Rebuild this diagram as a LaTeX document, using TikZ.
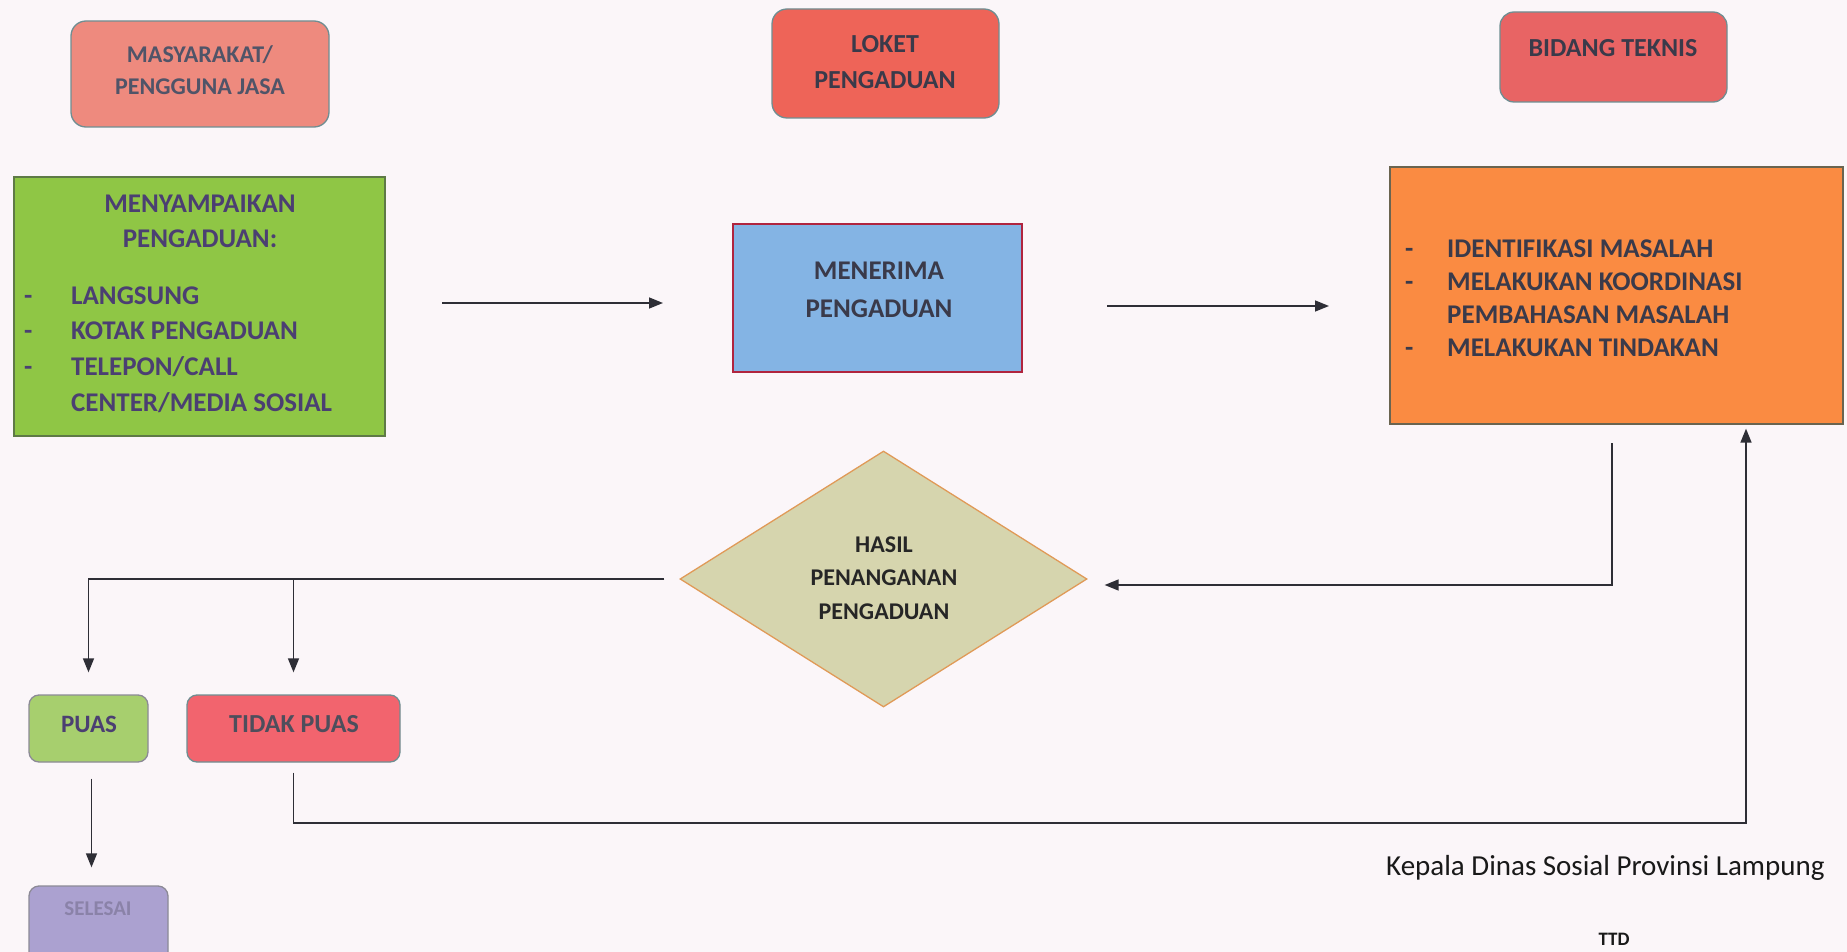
\documentclass[tikz,border=0pt]{standalone}
\usepackage{fontspec}
\setmainfont{Carlito}
\usetikzlibrary{arrows.meta,shapes.geometric,calc}
\definecolor{bg}{HTML}{FBF6F9}
\definecolor{masyf}{HTML}{EE8A7E}
\definecolor{loketf}{HTML}{EE6458}
\definecolor{bidf}{HTML}{E86464}
\definecolor{tealg}{HTML}{6F8E92}
\definecolor{grnf}{HTML}{8FC645}
\definecolor{grnb}{HTML}{5E7A46}
\definecolor{bluef}{HTML}{84B4E4}
\definecolor{blueb}{HTML}{B0243E}
\definecolor{orgf}{HTML}{FA8B42}
\definecolor{orgb}{HTML}{6A6450}
\definecolor{khaki}{HTML}{D6D5AE}
\definecolor{khakib}{HTML}{E09A58}
\definecolor{puasf}{HTML}{A7CF6E}
\definecolor{tidakf}{HTML}{F2646E}
\definecolor{self}{HTML}{ABA1D0}
\definecolor{selb}{HTML}{8C8A96}
\definecolor{txtg}{HTML}{505468}
\definecolor{txtd}{HTML}{3A3A4A}
\definecolor{txtp}{HTML}{4B3F72}
\definecolor{txtsel}{HTML}{8A82A8}
\definecolor{linec}{HTML}{2E2E36}
\begin{document}
\begin{tikzpicture}[x=1pt,y=-1pt,
  lbl/.style={inner sep=0pt, font=\bfseries\fontsize{27}{35}\selectfont, align=center},
  itm/.style={inner sep=0pt, anchor=west, font=\bfseries\fontsize{27}{35}\selectfont, text height=17pt, text depth=0pt},
  shapebox/.style={draw, line width=1.3pt, inner sep=0pt},
  arr/.style={draw=linec, line width=1.5pt, -{Triangle[length=14pt,width=11pt]}},
  ln/.style={draw=linec, line width=1.5pt}]
\fill[bg] (0,0) rectangle (1847,952);
\path[use as bounding box] (0,0) rectangle (1847,952);

% header boxes
\node[shapebox, rounded corners=15pt, fill=masyf, draw=tealg, minimum width=258pt, minimum height=106pt] (masy) at (200,74) {};
\node[lbl, text=txtg, font=\bfseries\fontsize{24}{32}\selectfont] (masyt) at (200,70) {MASYARAKAT/\\PENGGUNA JASA};

\node[shapebox, rounded corners=15pt, fill=loketf, draw=tealg, minimum width=227pt, minimum height=109pt] (loket) at (885.5,63.5) {};
\node[lbl, text=txtd, font=\bfseries\fontsize{26}{36}\selectfont] (lokett) at (885,62) {LOKET\\PENGADUAN};

\node[shapebox, rounded corners=14pt, fill=bidf, draw=tealg, minimum width=227pt, minimum height=90pt] (bidang) at (1613.5,57) {};
\node[lbl, text=txtd, font=\bfseries\fontsize{26}{34}\selectfont] (bidangt) at (1613,48) {BIDANG TEKNIS};

% green box
\node[shapebox, fill=grnf, draw=grnb, minimum width=371pt, minimum height=259pt] (send) at (199.5,306.5) {};
\node[lbl, text=txtp] (sendt) at (200,221) {MENYAMPAIKAN\\PENGADUAN:};
\node[itm, text=txtp] (sd1) at (24,296) {-};
\node[itm, text=txtp] (si1) at (71,296) {LANGSUNG};
\node[itm, text=txtp] (sd2) at (24,331) {-};
\node[itm, text=txtp] (si2) at (71,331) {KOTAK PENGADUAN};
\node[itm, text=txtp] (sd3) at (24,367) {-};
\node[itm, text=txtp] (si3) at (71,367) {TELEPON/CALL};
\node[itm, text=txtp] (si4) at (71,403) {CENTER/MEDIA SOSIAL};

% blue box
\node[shapebox, fill=bluef, draw=blueb, minimum width=289pt, minimum height=148pt] (terima) at (877.5,298) {};
\node[lbl, text=txtd, font=\bfseries\fontsize{27}{38}\selectfont] (terimat) at (879,290) {MENERIMA\\PENGADUAN};

% orange box
\node[shapebox, fill=orgf, draw=orgb, minimum width=453pt, minimum height=257pt] (proses) at (1616.5,295.5) {};
\node[itm, text=txtd] (pd1) at (1405,249) {-};
\node[itm, text=txtd] (pi1) at (1447,249) {IDENTIFIKASI MASALAH};
\node[itm, text=txtd] (pd2) at (1405,282) {-};
\node[itm, text=txtd] (pi2) at (1447,282) {MELAKUKAN KOORDINASI};
\node[itm, text=txtd] (pi3) at (1447,315) {PEMBAHASAN MASALAH};
\node[itm, text=txtd] (pd4) at (1405,348) {-};
\node[itm, text=txtd] (pi4) at (1447,348) {MELAKUKAN TINDAKAN};

% diamond
\node[diamond, draw=khakib, fill=khaki, line width=1.3pt, inner sep=0pt, minimum width=407pt, minimum height=256pt] (hasil) at (883.5,579) {};
\node[lbl, text=black!85, font=\bfseries\fontsize{24}{33.5}\selectfont] (hasilt) at (884,578) {HASIL\\PENANGANAN\\PENGADUAN};

% result boxes
\node[shapebox, rounded corners=10pt, fill=puasf, draw=selb, minimum width=119pt, minimum height=67pt] (puas) at (88.5,728.5) {};
\node[lbl, text=txtp, font=\bfseries\fontsize{25}{30}\selectfont] (puast) at (89,724) {PUAS};
\node[shapebox, rounded corners=10pt, fill=tidakf, draw=tealg, minimum width=213pt, minimum height=67pt] (tidak) at (293.5,728.5) {};
\node[lbl, text=txtd!90, font=\bfseries\fontsize{26}{30}\selectfont] (tidakt) at (294,724) {TIDAK PUAS};
\node[shapebox, rounded corners=10pt, fill=self, draw=selb, minimum width=139pt, minimum height=89pt] (selesai) at (98.5,930.5) {};
\node[lbl, text=txtsel, font=\bfseries\fontsize{21}{26}\selectfont] (selesait) at (98,909) {SELESAI};

% signature
\node[inner sep=0pt, anchor=west, text=black!90, font=\fontsize{29}{33}\selectfont] (kepala) at (1386,868) {Kepala Dinas Sosial Provinsi Lampung};
\node[inner sep=0pt, text=black!90, font=\bfseries\fontsize{19}{22}\selectfont] (ttd) at (1614,939) {TTD};

% connectors
\coordinate (a1s) at (442,303);
\coordinate (a1e) at (663,303);
\draw[arr] (a1s) -- (a1e);
\coordinate (a2s) at (1107,306);
\coordinate (a2e) at (1329,306);
\draw[arr] (a2s) -- (a2e);

\coordinate (fbtop) at (1612,443);
\draw[arr] (fbtop) |- ([xshift=17pt,yshift=-6pt]hasil.east);

\coordinate (split) at (tidak.north |- hasil.west);
\draw[arr] ([xshift=-15pt]hasil.west) -| ([yshift=22pt]puas.north);
\draw[arr] (split) -- ([yshift=22pt]tidak.north);

\draw[arr] ([xshift=3pt,yshift=-16pt]puas.south) -- ([xshift=3pt,yshift=18pt]puas.south |- selesai.north);

\coordinate (corner) at (1746,823);
\draw[arr] ([yshift=-10pt]tidak.south) |- (corner) -- ([yshift=-4pt]corner |- proses.south);
\end{tikzpicture}
\end{document}
